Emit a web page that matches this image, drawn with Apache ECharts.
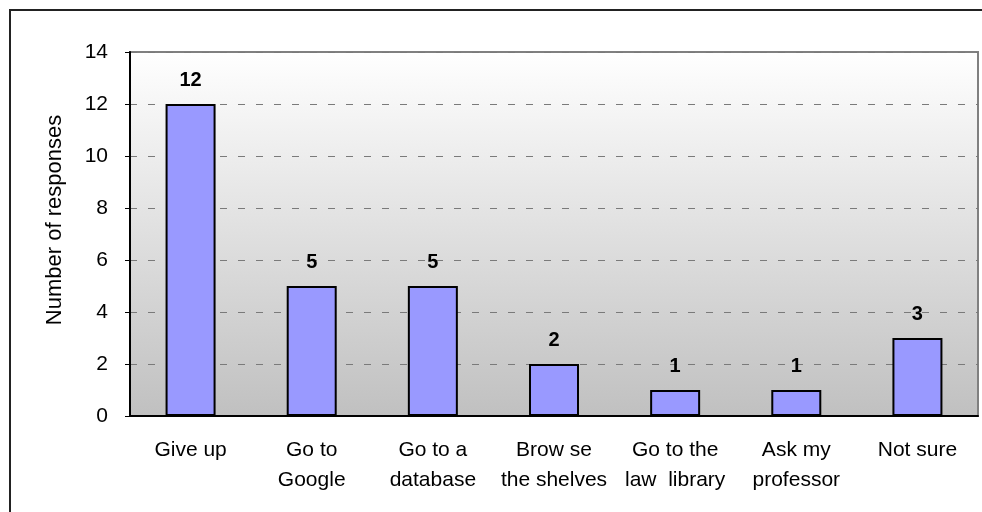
<!DOCTYPE html>
<html>
<head>
<meta charset="utf-8">
<script src="https://cdn.jsdelivr.net/npm/echarts@6/dist/echarts.min.js"></script>
<style>
  html, body { margin: 0; padding: 0; background: #fff; }
  #chart { width: 982px; height: 512px; }
</style>
</head>
<body>
<div id="chart"></div>
<script>
// categories and counts
const categories = [
  "Give up",
  "Go to\nGoogle",
  "Go to a\ndatabase",
  "Brow se\nthe shelves",
  "Go to the\nlaw  library",
  "Ask my\nprofessor",
  "Not sure"
];
const responses = [12, 5, 5, 2, 1, 1, 3];
const yTicks = [0, 2, 4, 6, 8, 10, 12, 14];

const chart = echarts.init(document.getElementById("chart"));
const font = "Liberation Sans, Arial, sans-serif";

const option = {
  animation: false,
  backgroundColor: "#fff",
  graphic: [
    {
      type: "rect",
      shape: { x: 10, y: 10, width: 990, height: 520 },
      style: { fill: "none", stroke: "#222", lineWidth: 2 },
      z: 0
    }
  ],
  grid: {
    left: 130,
    top: 52,
    right: 4,
    bottom: 96,
    show: true,
    borderColor: "#808080",
    borderWidth: 2,
    backgroundColor: new echarts.graphic.LinearGradient(0, 0, 0, 1, [
      { offset: 0, color: "#ffffff" },
      { offset: 1, color: "#c0c0c0" }
    ])
  },
  xAxis: {
    type: "category",
    data: categories,
    axisLine: { lineStyle: { color: "#000", width: 2 } },
    axisTick: { inside: true, length: 6, lineStyle: { color: "#000", width: 1 } },
    axisLabel: {
      color: "#000",
      fontFamily: font,
      fontSize: 21,
      lineHeight: 30,
      margin: 19,
      interval: 0
    }
  },
  yAxis: {
    type: "value",
    min: yTicks[0],
    max: yTicks[yTicks.length - 1],
    interval: 2,
    name: "Number of responses",
    nameLocation: "middle",
    nameGap: 64,
    nameTextStyle: { color: "#000", fontFamily: font, fontSize: 22, padding: [0, 0, 0, 28] },
    axisLine: { show: true, lineStyle: { color: "#000", width: 2 } },
    axisTick: { show: true, length: 5, lineStyle: { color: "#000" } },
    axisLabel: { color: "#000", fontFamily: font, fontSize: 21, margin: 22 },
    splitLine: {
      lineStyle: { color: "#7a7a7a", type: [7, 11], width: 1 }
    }
  },
  series: [
    {
      type: "bar",
      data: responses,
      barWidth: 50,
      itemStyle: { color: "#9999ff", borderColor: "#000", borderWidth: 2 },
      label: {
        show: true,
        position: "top",
        distance: 14,
        color: "#000",
        fontFamily: font,
        fontSize: 20,
        fontWeight: "bold"
      }
    }
  ]
};
chart.setOption(option);
</script>
</body>
</html>
